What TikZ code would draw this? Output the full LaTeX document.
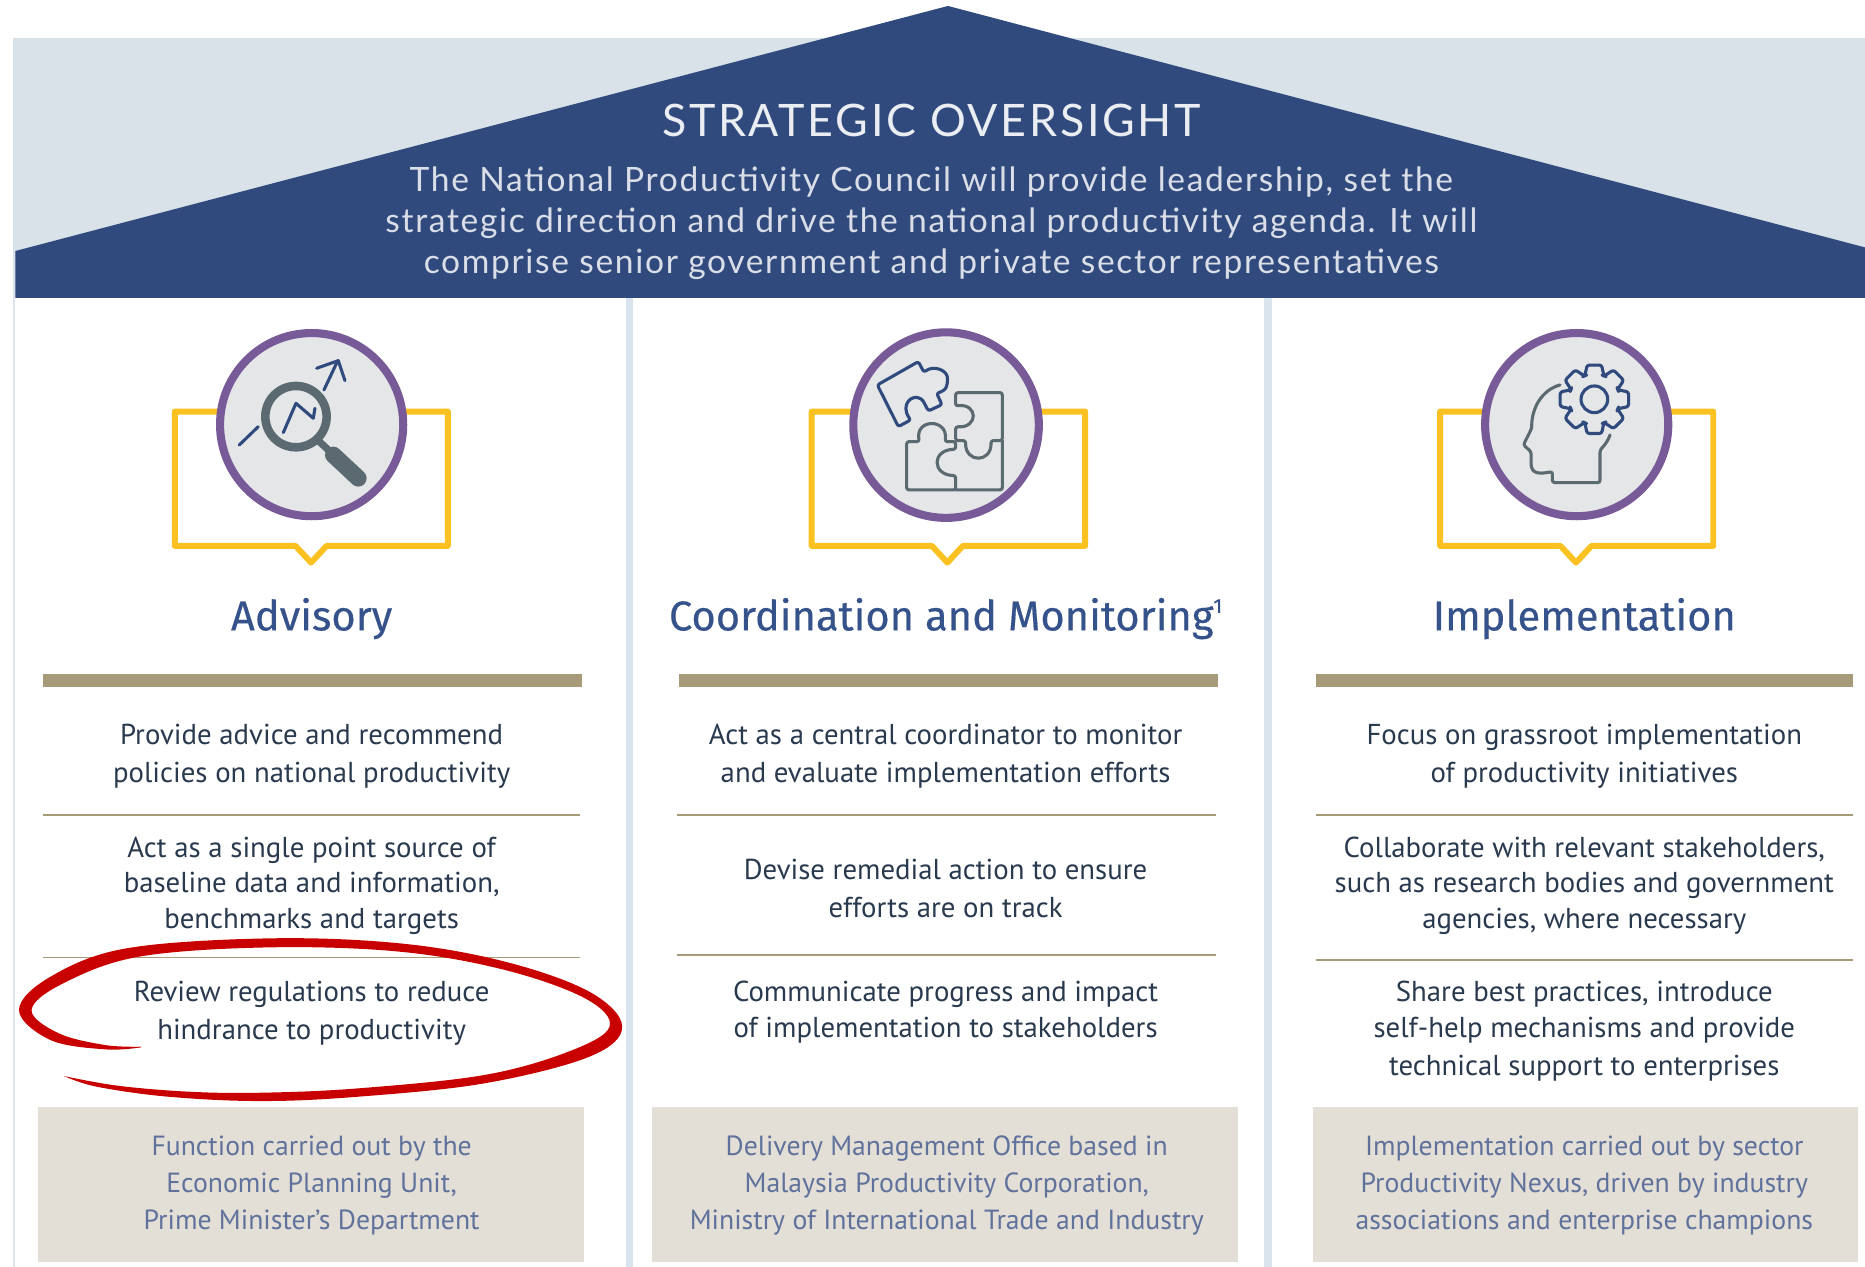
\documentclass[tikz,border=0pt]{standalone}
\usepackage{fontspec}
\setmainfont{PT Sans}
\newfontfamily\titlefont[LetterSpace=6]{Lato}
\newfontfamily\leadfont[LetterSpace=5]{Lato}
\newfontfamily\headfont[FakeBold=0.35]{Fira Sans}
\definecolor{navy}{HTML}{304A7D}
\definecolor{band}{HTML}{D8E2E8}
\definecolor{sep}{HTML}{DAE4EC}
\definecolor{tan}{HTML}{A69A78}
\definecolor{beige}{HTML}{E3DFD6}
\definecolor{bodyc}{HTML}{2A3A4E}
\definecolor{notec}{HTML}{5F729C}
\definecolor{gold}{HTML}{FBC121}
\definecolor{violet}{HTML}{775A97}
\definecolor{disc}{HTML}{E4E6E8}
\definecolor{slate}{HTML}{5B6971}
\definecolor{redmark}{HTML}{C90000}
\definecolor{headc}{HTML}{35528A}
\tikzset{
  lead/.style={font=\leadfont\fontsize{14.1}{17.2}\selectfont,text=white!82!navy,align=center,inner sep=0pt},
  head/.style={font=\headfont\fontsize{17.5}{20}\selectfont,text=headc,inner sep=0pt,anchor=base},
  body/.style={font=\fontsize{12.1}{15}\selectfont,text=bodyc,align=center,inner sep=0pt},
  note/.style={font=\fontsize{11.65}{15.5}\selectfont,text=notec,align=center,inner sep=0pt},
  disc/.style={circle,draw=violet,fill=disc,line width=3.4pt,inner sep=0pt,minimum size=77pt},
  frame/.style={draw=gold,line width=2.5pt,line join=round},
  thick rule/.style={fill=tan},
  thin rule/.style={draw=tan,line width=.7pt},
  beigebox/.style={fill=beige},
  sepline/.style={draw=sep,line width=3pt},
  iconblue/.style={draw=navy,line width=1.3pt,line join=round,line cap=round,rounded corners=1pt},
  icongrey/.style={draw=slate,line width=1.3pt,line join=round,line cap=round,rounded corners=1pt},
}
\begin{document}
\begin{tikzpicture}[x=.5pt,y=-.5pt]
\useasboundingbox[fill=white] (0,0) rectangle (1568,1065.2);
% roof
\fill[band] (11,32) rectangle (1568,250);
\draw[sep,line width=1pt] (12,250) -- (12,1065.2);
\draw[sepline] (529,250) -- (529,1065.2);
\draw[sepline] (1066,250) -- (1066,1065.2);
\fill[navy] (13,211) -- (797,5) -- (1568,208) -- (1568,250.5) -- (13,250.5) -- cycle;
\node[font=\titlefont\fontsize{18.8}{20}\selectfont,text=white!90!navy,inner sep=0pt] (title) at (783,101) {STRATEGIC OVERSIGHT};
\node[lead] (lead1) at (783,188) {The National Productivity Council will provide leadership, set the\\strategic direction and drive the national productivity agenda. It will\\comprise senior government and private sector representatives};

% frames
\draw[frame] (147,346) -- (376.5,346) -- (376.5,459) -- (274.5,459) -- (261.5,473) -- (248.5,459) -- (147,459) -- cycle;
\draw[frame] (682.4,346) -- (912.3,346) -- (912.3,459) -- (809.5,459) -- (796.5,473) -- (783.5,459) -- (682.4,459) -- cycle;
\draw[frame] (1210.7,346) -- (1440.4,346) -- (1440.4,459) -- (1338,459) -- (1325,473) -- (1312,459) -- (1210.7,459) -- cycle;
\node[disc] (d1) at (262,357) {};
\node[disc,minimum size=78pt] (d2) at (795.4,357.4) {};
\node[disc] (d3) at (1325.6,357) {};

% magnifier icon
\begin{scope}[shift={(126.1,260.6)},x=.1401pt,y=-.1401pt]
  \draw[iconblue,rounded corners=0pt] (268,405) -- (325,350);
  \draw[iconblue,rounded corners=0pt] (400,368) -- (438,280) -- (490,325) -- (495,295);
  \draw[iconblue,rounded corners=0pt] (522,240) -- (562,155);
  \draw[iconblue,rounded corners=0pt] (500,175) -- (565,152) -- (585,212);
  \draw[slate,line width=3.6pt] (438,320) circle (92);
  \draw[slate,line width=3pt] (505,392) -- (535,420);
  \draw[slate,line width=7pt,line cap=round] (550,435) -- (625,505);
\end{scope}

% puzzle icon
\begin{scope}[shift={(664.2,260.6)},x=.1401pt,y=-.1401pt]
  \draw[iconblue] (262,225) -- (385,155) -- (402,187) .. controls (430,165) and (475,180) .. (472,215) .. controls (470,240) and (455,245) .. (440,250) -- (456,284) -- (415,303) -- (398,270) .. controls (365,250) and (330,285) .. (362,330) -- (325,350) -- cycle;
  \draw[icongrey] (497,248) -- (637,248) -- (637,392) -- (603,392) .. controls (605,460) and (525,460) .. (527,392) -- (497,392) -- (497,350) .. controls (565,355) and (565,280) .. (497,288) -- cycle;
  \draw[icongrey] (350,395) -- (388,395) .. controls (375,325) and (475,325) .. (465,395) -- (497,395) -- (497,418) .. controls (425,420) and (425,495) .. (497,497) -- (497,540) -- (350,540) -- cycle;
  \draw[icongrey] (637,392) -- (637,540) -- (497,540);
\end{scope}

% head and gear icon
\begin{scope}[shift={(1193.9,260.6)},x=.1401pt,y=-.1401pt]
  \draw[icongrey] (420,225) .. controls (365,240) and (335,295) .. (335,355) -- (310,405) -- (333,425) -- (333,465) .. controls (340,495) and (370,490) .. (397,485) -- (397,518) -- (540,518) -- (540,420) .. controls (555,405) and (565,390) .. (570,375);
  \begin{scope}[shift={(523,268)}]
    \draw[iconblue] (-22:76) foreach \a in {0,45,...,315} { -- (\a-22:76) -- (\a-12:105) -- (\a+12:105) -- (\a+22:76) } -- cycle;
    \draw[navy,line width=1.3pt] (0,0) circle (40);
  \end{scope}
\end{scope}

% headings
\node[head] (h1) at (262,530) {Advisory};
\node[head] (h2) at (795,530) {Coordination and Monitoring\raisebox{.42em}{\fontsize{8.5}{9}\selectfont 1}};
\node[head] (h3) at (1332,530) {Implementation};

% rules
\fill[thick rule] (36,567) rectangle (489,578);
\fill[thick rule] (571,567) rectangle (1024,578);
\fill[thick rule] (1106,567) rectangle (1558,578);
\draw[thin rule] (36,685) -- (488,685);
\draw[thin rule] (36,805) -- (488,805);
\draw[thin rule] (569,685) -- (1022,685);
\draw[thin rule] (569,803) -- (1022,803);
\draw[thin rule] (1106,685) -- (1558,685);
\draw[thin rule] (1106,807) -- (1558,807);

% body column 1
\node[body] (a1) at (262,636) {Provide advice and recommend\\[1pt]policies on national productivity};
\node[body] (a2) at (262,744.5) {Act as a single point source of\\baseline data and information,\\benchmarks and targets};
\node[body] (a3) at (262,852) {Review regulations to reduce\\[1pt]hindrance to productivity};
% body column 2
\node[body] (b1) at (795,636) {Act as a central coordinator to monitor\\[1pt]and evaluate implementation efforts};
\node[body] (b2) at (795,747) {Devise remedial action to ensure\\[1pt]efforts are on track};
\node[body] (b3) at (795,851) {Communicate progress and impact\\of implementation to stakeholders};
% body column 3
\node[body] (c1) at (1332,636) {Focus on grassroot implementation\\[1pt]of productivity initiatives};
\node[body] (c2) at (1332,744.5) {Collaborate with relevant stakeholders,\\such as research bodies and government\\agencies, where necessary};
\node[body] (c3) at (1332,867) {Share best practices, introduce\\self-help mechanisms and provide\\[1pt]technical support to enterprises};

% note boxes
\fill[beigebox] (32,931) rectangle (491,1061);
\fill[beigebox] (548,931) rectangle (1041,1061);
\fill[beigebox] (1104,931) rectangle (1562,1061);
\node[note] (n1) at (262,996.5) {Function carried out by the\\Economic Planning Unit,\\Prime Minister's Department};
\node[note] (n2) at (796,996.5) {Delivery Management Office based in\\Malaysia Productivity Corporation,\\Ministry of International Trade and Industry};
\node[note] (n3) at (1332,996.5) {Implementation carried out by sector\\Productivity Nexus, driven by industry\\associations and enterprise champions};

% red hand-drawn loop
\begin{scope}[shift={(0,773.5)},x=.17695pt,y=-.14015pt]
  \fill[redmark] plot[smooth,tension=.6] coordinates {(335,382) (250,388) (120,360) (45,270) (120,170) (300,85) (640,55) (950,70) (1200,125) (1400,215) (1478,320) (1400,410) (1150,490) (850,530) (620,543) (400,530) (230,500) (152,468)}
   -- plot[smooth,tension=.6] coordinates {(152,468) (280,497) (450,515) (620,518) (850,505) (1150,465) (1350,395) (1448,320) (1390,235) (1200,150) (950,95) (640,82) (330,110) (150,190) (75,270) (140,340) (250,375) (335,380)} -- cycle;
\end{scope}
\end{tikzpicture}
\end{document}
